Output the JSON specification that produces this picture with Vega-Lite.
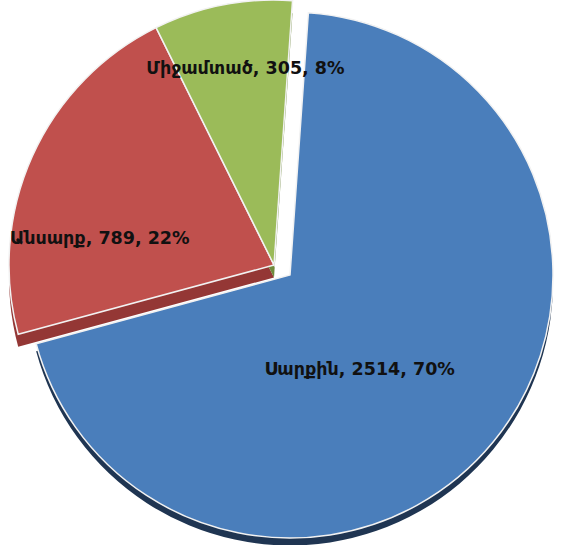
{
  "$schema": "https://vega.github.io/schema/vega-lite/v6.json",
  "autosize": {"type": "fit", "contains": "padding"},
  "width": 574,
  "height": 545,
  "padding": 0,
  "background": "white",
  "view": {"stroke": null},
  "data": {
    "values": [
      {"status": "Սարքին", "count": 2514, "pct": "70%", "label": "Սարքին, 2514, 70%", "order": 1},
      {"status": "Անսարք", "count": 789, "pct": "22%", "label": "Անսարք, 789, 22%", "order": 2},
      {"status": "Միջամտած", "count": 305, "pct": "8%", "label": "Միջամտած, 305, 8%", "order": 3}
    ]
  },
  "layer": [
    {
      "transform": [
        {"stack": "count", "groupby": [], "sort": [{"field": "order"}], "as": ["t0", "t1"]},
        {"filter": "datum.order >= 2"}
      ],
      "mark": {"type": "arc", "radius": 265, "xOffset": -13, "yOffset": 2},
      "encoding": {
        "theta": {"field": "t0", "type": "quantitative", "scale": {"domain": [0, 3608], "range": [0.07, 6.3532]}},
        "theta2": {"field": "t1"},
        "color": {"field": "status", "type": "nominal", "scale": {"domain": ["Անսարք", "Միջամտած"], "range": ["#943735", "#6F8A3C"]}, "legend": null}
      }
    },
    {
      "transform": [
        {"stack": "count", "groupby": [], "sort": [{"field": "order"}], "as": ["t0", "t1"]},
        {"filter": "datum.order == 1"}
      ],
      "mark": {"type": "arc", "radius": 263, "xOffset": 3, "yOffset": 7, "fill": "#1F3552"},
      "encoding": {
        "theta": {"field": "t0", "type": "quantitative", "scale": {"domain": [0, 3608], "range": [0.07, 6.3532]}},
        "theta2": {"field": "t1"}
      }
    },
    {
      "transform": [
        {"stack": "count", "groupby": [], "sort": [{"field": "order"}], "as": ["t0", "t1"]},
        {"filter": "datum.order == 1"}
      ],
      "mark": {"type": "arc", "radius": 263, "xOffset": 3, "yOffset": -0.5, "fill": "#4A7EBB", "stroke": "#F2F2F2", "strokeWidth": 1.5},
      "encoding": {
        "theta": {"field": "t0", "type": "quantitative", "scale": {"domain": [0, 3608], "range": [0.07, 6.3532]}},
        "theta2": {"field": "t1"}
      }
    },
    {
      "transform": [
        {"stack": "count", "groupby": [], "sort": [{"field": "order"}], "as": ["t0", "t1"]},
        {"filter": "datum.order >= 2"}
      ],
      "mark": {"type": "arc", "radius": 265, "xOffset": -13, "yOffset": -10.5, "stroke": "#F2F2F2", "strokeWidth": 1.5},
      "encoding": {
        "theta": {"field": "t0", "type": "quantitative", "scale": {"domain": [0, 3608], "range": [0.07, 6.3532]}},
        "theta2": {"field": "t1"},
        "fill": {"field": "status", "type": "nominal", "scale": {"domain": ["Անսարք", "Միջամտած"], "range": ["#C0504D", "#9BBB59"]}, "legend": null}
      }
    },
    {
      "mark": {"type": "text", "radius": 120, "dx": -20, "dy": 18, "font": "DejaVu Sans", "fontSize": 17.5, "fontWeight": "bold", "fill": "#111111"},
      "encoding": {
        "theta": {"field": "count", "type": "quantitative", "stack": true, "scale": {"domain": [0, 3608], "range": [0.07, 6.3532]}},
        "order": {"field": "order", "type": "quantitative"},
        "text": {"condition": {"test": "datum.order == 1", "field": "label"}, "value": ""}
      }
    },
    {
      "mark": {"type": "text", "radius": 190, "dx": -14, "dy": 41, "font": "DejaVu Sans", "fontSize": 17.5, "fontWeight": "bold", "fill": "#111111"},
      "encoding": {
        "theta": {"field": "count", "type": "quantitative", "stack": true, "scale": {"domain": [0, 3608], "range": [0.07, 6.3532]}},
        "order": {"field": "order", "type": "quantitative"},
        "text": {"condition": {"test": "datum.order == 2", "field": "label"}, "value": ""}
      }
    },
    {
      "mark": {"type": "text", "radius": 209, "dx": -1, "dy": -1, "font": "DejaVu Sans", "fontSize": 17.5, "fontWeight": "bold", "fill": "#111111"},
      "encoding": {
        "theta": {"field": "count", "type": "quantitative", "stack": true, "scale": {"domain": [0, 3608], "range": [0.07, 6.3532]}},
        "order": {"field": "order", "type": "quantitative"},
        "text": {"condition": {"test": "datum.order == 3", "field": "label"}, "value": ""}
      }
    }
  ]
}
